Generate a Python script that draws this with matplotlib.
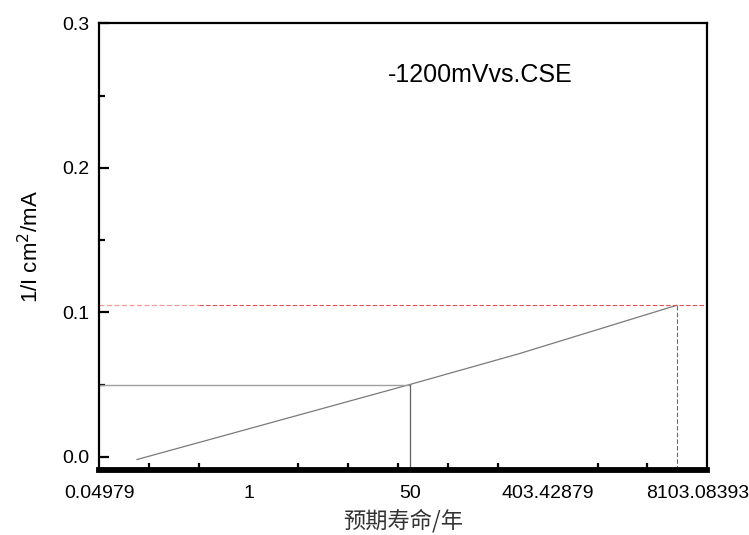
import matplotlib
matplotlib.use("Agg")
import matplotlib.pyplot as plt
import numpy as np

# Data (x in ln(life/years) space, y = 1/I in cm^2/mA)
ln_life = [-2.25, 3.23, 5.42, 8.60]
inv_current = [-0.002, 0.050, 0.0713, 0.105]

# Reference lines
ref_y_solid = 0.050
ref_x_solid = 3.23
ref_y_dash = 0.105
ref_x_dash = 8.60

# Tick labels
xtick_pos = [-3, 0, 3.23, 6, 9]
xtick_labels = ['0.04979', '1', '50', '403.42879', '8103.08393']
xminor_pos = list(range(-2, 10))
ytick_pos = [0.0, 0.1, 0.2, 0.3]
yminor_pos = [0.05, 0.15, 0.25]

plt.rcParams['font.family'] = ['Liberation Sans', 'DejaVu Sans']

fig = plt.figure(figsize=(7.49, 5.35), dpi=100)
ax = fig.add_axes([0.1322, 0.1224, 0.8121, 0.834])

xmin, xmax = -3.0, 9.2
ymin, ymax = -0.0088, 0.3
ax.set_xlim(xmin, xmax)
ax.set_ylim(ymin, ymax)

# main curve
ax.plot(ln_life, inv_current, color='#7a7a7a', lw=0.9, solid_capstyle='butt')

# solid reference lines
ax.plot([xmin, ref_x_solid], [ref_y_solid, ref_y_solid], color='#a0a0a0', lw=1.0)
ax.plot([ref_x_solid, ref_x_solid], [ymin, ref_y_solid], color='#606060', lw=0.9)

# dashed reference lines
ax.plot([xmin, -1.0], [ref_y_dash, ref_y_dash], color='#f49a9a', lw=0.9,
        dashes=(4.0, 2.0))
ax.plot([-1.0, xmax], [ref_y_dash, ref_y_dash], color='#e05050', lw=0.8,
        dashes=(4.0, 2.0))
ax.plot([ref_x_dash, ref_x_dash], [ymin, ref_y_dash], color='#6a6a6a', lw=0.8,
        dashes=(4.0, 2.0))

# spines
for side in ['left', 'top', 'right']:
    ax.spines[side].set_linewidth(1.6)
ax.spines['bottom'].set_linewidth(4.2)

# ticks
ax.set_xticks(xtick_pos)
ax.set_xticklabels(xtick_labels)
ax.set_xticks(xminor_pos, minor=True)
ax.tick_params(axis='x', which='major', length=0, labelsize=14, pad=11)
ax.tick_params(axis='x', which='minor', direction='in', length=5, width=1.6)

ax.set_yticks(ytick_pos)
ax.set_yticklabels([f'{v:.1f}' for v in ytick_pos])
ax.set_yticks(yminor_pos, minor=True)
ax.tick_params(axis='y', which='major', direction='in', length=7, width=1.6,
               labelsize=14, pad=7)
ax.tick_params(axis='y', which='minor', direction='in', length=4, width=1.6)
ax.tick_params(top=False, right=False, which='both')

ax.set_ylabel('1/I cm$^2$/mA', fontsize=16, labelpad=14)
ax.set_xlabel('预期寿命/年', fontsize=16, family=['Noto Sans CJK SC', 'DejaVu Sans'],
              color='#333333', labelpad=5)

ax.text(2.79, 0.264, '-1200mVvs.CSE', fontsize=18, ha='left', va='center')

fig.savefig('out.png', dpi=100)
